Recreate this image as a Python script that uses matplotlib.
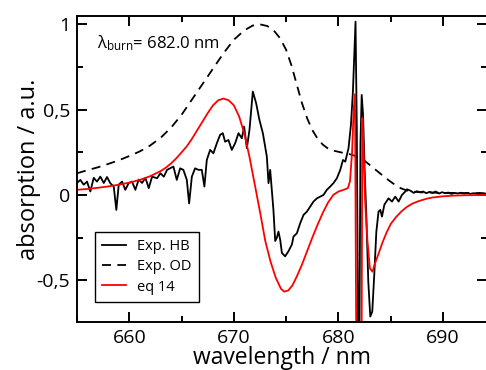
import matplotlib
matplotlib.use('Agg')
import matplotlib.pyplot as plt
from matplotlib.ticker import MultipleLocator, FuncFormatter

# Exp. HB (hole burning spectrum)
hb_wl = [655.00, 655.32, 655.64, 655.96, 656.27, 656.60, 656.91, 657.23, 657.56, 657.87,
         658.19, 658.51, 658.76, 658.99, 659.31, 659.62, 659.95, 660.26, 660.58, 660.90,
         661.22, 661.54, 661.86, 662.18, 662.66, 662.97, 663.30, 663.61, 663.90, 664.22,
         664.54, 664.86, 665.17, 665.50, 665.72, 665.98, 666.29, 666.61, 666.93, 667.18,
         667.41, 667.73, 668.04, 668.37, 668.68, 668.94, 669.16, 669.48, 669.80, 670.12,
         670.44, 670.76, 670.98, 671.24, 671.49, 671.81, 672.13, 672.44, 672.77, 673.15,
         673.31, 673.47, 673.78, 673.95, 674.11, 674.26, 674.43, 674.59, 674.90, 675.22,
         675.55, 675.70, 676.02, 676.34, 676.66, 676.98, 677.30, 677.61, 677.94, 678.25,
         678.57, 678.89, 679.21, 679.53, 679.85, 680.17, 680.43, 680.65, 680.96, 681.19,
         681.38, 681.51, 681.63, 681.75, 681.95, 682.10, 682.22, 682.35, 682.50, 682.66,
         682.85, 683.04, 683.23, 683.42, 683.62, 683.83, 684.00, 684.16, 684.38, 684.47,
         684.79, 685.11, 685.43, 685.75, 686.07, 686.39, 686.55, 686.87, 687.20, 687.50,
         687.80, 688.10, 688.40, 688.70, 689.00, 689.30, 689.60, 689.90, 690.20, 690.50,
         690.80, 691.10, 691.40, 691.70, 692.00, 692.30, 692.60, 692.90, 693.20, 693.50,
         693.80, 694.20]
hb_abs = [0.070, 0.088, 0.060, 0.078, 0.020, 0.100, 0.078, 0.107, 0.070, 0.105,
          0.068, 0.050, -0.088, 0.060, 0.078, 0.030, 0.070, 0.078, 0.030, 0.090,
          0.070, 0.100, 0.040, 0.107, 0.098, 0.127, 0.107, 0.147, 0.156, 0.166,
          0.088, 0.156, 0.147, 0.088, -0.050, 0.107, 0.156, 0.147, 0.147, 0.049,
          0.205, 0.264, 0.244, 0.303, 0.352, 0.362, 0.312, 0.322, 0.264, 0.303,
          0.362, 0.332, 0.400, 0.274, 0.381, 0.606, 0.537, 0.440, 0.362, 0.225,
          0.069, 0.147, -0.088, -0.270, -0.250, -0.215, -0.264, -0.340, -0.360, -0.330,
          -0.290, -0.244, -0.225, -0.166, -0.117, -0.098, -0.068, -0.039, -0.020, -0.010,
          0.000, 0.030, 0.049, 0.070, 0.098, 0.147, 0.205, 0.195, 0.274, 0.410,
          0.606, 0.820, 1.016, 0.400, -1.500, 0.300, 0.586, 0.469, 0.150, -0.117,
          -0.508, -0.713, -0.684, -0.469, -0.215, -0.098, -0.088, -0.127, -0.059, -0.049,
          -0.020, -0.039, -0.010, -0.039, 0.000, 0.020, 0.033, 0.025, 0.012, 0.022,
          0.015, 0.020, 0.010, 0.018, 0.012, 0.020, 0.008, 0.016, 0.010, 0.014,
          0.006, 0.012, 0.009, 0.013, 0.007, 0.012, 0.006, 0.010, 0.008, 0.011,
          0.006, 0.008]

# Exp. OD (optical density)
od_wl = [655.0, 656.0, 657.0, 658.0, 659.0, 660.0, 661.0, 662.0, 663.0, 664.0,
         665.0, 666.0, 667.0, 668.0, 669.0, 670.0, 671.0, 671.8, 672.5, 673.2,
         673.8, 674.4, 675.0, 675.5, 676.0, 676.5, 677.0, 677.5, 678.0, 678.5,
         679.0, 679.5, 680.2, 681.0, 681.8, 682.5, 683.0, 683.5, 684.0, 684.5,
         685.0, 685.5, 686.0, 686.5, 687.0, 688.0, 690.0, 694.2]
od_abs = [0.127, 0.145, 0.162, 0.182, 0.203, 0.228, 0.255, 0.290, 0.335, 0.395,
          0.470, 0.560, 0.650, 0.740, 0.830, 0.910, 0.965, 0.993, 1.000, 0.990,
          0.965, 0.920, 0.850, 0.760, 0.650, 0.540, 0.450, 0.380, 0.330, 0.295,
          0.272, 0.260, 0.250, 0.240, 0.225, 0.200, 0.175, 0.150, 0.125, 0.100,
          0.077, 0.055, 0.038, 0.027, 0.020, 0.015, 0.012, 0.010]

# eq 14 (model)
eq_wl = [655.0, 656.0, 657.0, 658.0, 659.0, 660.0, 661.0, 662.0, 663.0, 663.5,
         664.0, 664.5, 665.0, 665.5, 666.0, 666.5, 667.0, 667.5, 668.0, 668.5,
         669.0, 669.5, 670.0, 670.5, 671.0, 671.5, 672.0, 672.5, 673.0, 673.5,
         674.0, 674.5, 674.8, 675.2, 675.6, 676.0, 676.5, 677.0, 677.5, 678.0,
         678.5, 679.0, 679.5, 680.0, 680.5, 680.9, 681.1, 681.3, 681.45, 681.58,
         681.83, 682.13, 682.28, 682.42, 682.55, 682.77, 683.0, 683.25, 683.5, 683.8,
         684.2, 684.6, 685.0, 685.5, 686.0, 686.5, 687.0, 687.5, 688.0, 688.5,
         689.0, 690.0, 691.0, 692.0, 694.2]
eq_abs = [0.030, 0.035, 0.042, 0.050, 0.060, 0.072, 0.088, 0.110, 0.140, 0.160,
          0.185, 0.215, 0.250, 0.285, 0.330, 0.380, 0.430, 0.480, 0.525, 0.555,
          0.565, 0.555, 0.525, 0.460, 0.360, 0.220, 0.060, -0.100, -0.270, -0.390,
          -0.485, -0.550, -0.567, -0.560, -0.530, -0.480, -0.410, -0.330, -0.250, -0.175,
          -0.105, -0.045, 0.000, 0.020, 0.030, 0.040, 0.080, 0.250, 0.500, 0.590,
          -2.500, -2.500, 0.450, 0.215, -0.040, -0.270, -0.430, -0.450, -0.400, -0.350,
          -0.280, -0.220, -0.170, -0.130, -0.098, -0.072, -0.053, -0.040, -0.030, -0.021,
          -0.015, -0.008, -0.004, -0.002, 0.000]

plt.rcParams['font.family'] = ['Open Sans', 'DejaVu Sans']
plt.rcParams['mathtext.fontset'] = 'custom'
plt.rcParams['mathtext.rm'] = 'Open Sans'
plt.rcParams['mathtext.it'] = 'Open Sans'

fig = plt.figure(figsize=(4.86, 3.70), dpi=100)
ax = fig.add_axes([77 / 486, 48 / 370, 410 / 486, 306 / 370])

ax.plot(hb_wl, hb_abs, color='black', lw=1.3, label='Exp. HB')
ax.plot(od_wl, od_abs, color='black', lw=1.3, ls=(0, (5, 3.5)), label='Exp. OD')
ax.plot(eq_wl, eq_abs, color='#ff0000', lw=1.3, label='eq 14')

ax.set_xlim(655, 694.2)
ax.set_ylim(-0.745, 1.049)

ax.xaxis.set_major_locator(MultipleLocator(10))
ax.xaxis.set_minor_locator(MultipleLocator(5))
ax.yaxis.set_major_locator(MultipleLocator(0.5))
ax.yaxis.set_minor_locator(MultipleLocator(0.25))
ax.yaxis.set_major_formatter(FuncFormatter(lambda v, p: ('%g' % v).replace('.', ',')))

ax.tick_params(which='both', direction='in', top=True, right=True, width=1.4,
               labelsize=14, pad=5)
ax.tick_params(which='major', length=7)
ax.tick_params(which='minor', length=4)
for s in ax.spines.values():
    s.set_linewidth(1.4)

ax.set_xlabel('wavelength / nm', fontsize=16.5, va='baseline')
ax.xaxis.set_label_coords(0.5, -42 / 306)
ax.set_ylabel('absorption / a.u.', fontsize=17, labelpad=-3)

ax.text(0.049, 0.895, r'$\mathrm{λ_{burn}}$= 682.0 nm', transform=ax.transAxes,
        fontsize=12, va='baseline', ha='left')

leg = ax.legend(loc='upper left', bbox_to_anchor=(0.044, 0.294), borderaxespad=0,
                fontsize=10.5, handlelength=1.6, fancybox=False, framealpha=1,
                edgecolor='black', borderpad=0.5, labelspacing=0.35)
leg.get_frame().set_linewidth(1.0)

fig.savefig('out.png', dpi=100)
